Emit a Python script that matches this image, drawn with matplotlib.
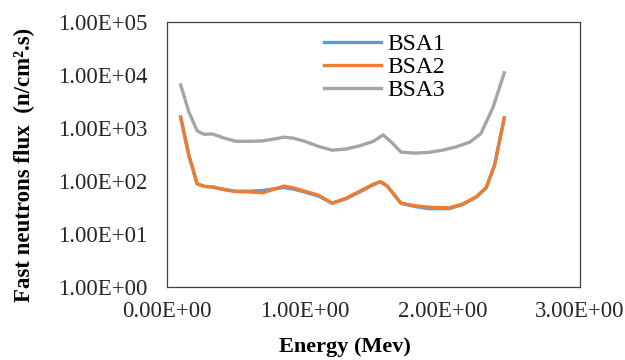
import matplotlib
matplotlib.use('Agg')
import matplotlib.pyplot as plt
import numpy as np

# values
energy = [0.10, 0.16, 0.22, 0.27, 0.33, 0.42, 0.50, 0.60, 0.70, 0.78, 0.85, 0.92, 1.00, 1.10, 1.20,
          1.30, 1.40, 1.50, 1.55, 1.60, 1.70, 1.80, 1.90, 2.05, 2.15, 2.25, 2.32, 2.38, 2.45]
bsa1 = [1600, 300, 88, 79, 77, 69, 64, 64, 66, 71, 75, 70, 62, 52, 38,
        46, 62, 85, 97, 80, 38, 33, 30, 30, 36, 50, 75, 200, 1550]
bsa2 = [1600, 300, 88, 79, 77, 68, 63, 62, 60, 70, 80, 74, 64, 54, 38,
        47, 64, 87, 96, 80, 38, 34, 32, 31, 37, 51, 76, 200, 1550]
energy3 = [0.10, 0.16, 0.22, 0.27, 0.33, 0.42, 0.50, 0.60, 0.70, 0.78, 0.85, 0.92, 1.00, 1.10, 1.20,
           1.30, 1.40, 1.50, 1.57, 1.63, 1.70, 1.80, 1.90, 2.00, 2.10, 2.20, 2.28, 2.37, 2.45]
bsa3 = [6500, 2000, 880, 760, 770, 640, 560, 560, 570, 620, 670, 640, 560, 450, 380,
        400, 460, 560, 740, 540, 350, 335, 345, 380, 440, 540, 780, 2500, 11000]

xticks = [0, 1, 2, 3]
xticklabels = ['0.00E+00', '1.00E+00', '2.00E+00', '3.00E+00']
yticks = [1, 10, 100, 1000, 10000, 100000]
yticklabels = ['1.00E+00', '1.00E+01', '1.00E+02', '1.00E+03', '1.00E+04', '1.00E+05']

plt.rcParams['font.family'] = ['Liberation Serif', 'DejaVu Serif']

fig = plt.figure(figsize=(6.25, 3.6), dpi=100)
ax = fig.add_axes([0.267, 0.203, 0.661, 0.736])

ax.plot(energy, bsa1, color='#5B9BD5', lw=2.4, label='BSA1', solid_joinstyle='round')
ax.plot(energy, bsa2, color='#ED7D31', lw=2.4, label='BSA2', solid_joinstyle='round')
ax.plot(energy3, bsa3, color='#A5A5A5', lw=2.4, label='BSA3', solid_joinstyle='round')

ax.set_yscale('log')
ax.set_xlim(0, 3)
ax.set_ylim(1, 1e5)
ax.set_xticks(xticks)
ax.set_xticklabels(xticklabels)
ax.set_yticks(yticks)
ax.set_yticklabels(yticklabels)
ax.yaxis.set_minor_locator(matplotlib.ticker.NullLocator())
ax.tick_params(length=0, labelsize=16.5, colors='#262626')
ax.tick_params(axis='x', pad=10)
ax.tick_params(axis='y', pad=14)
for s in ax.spines.values():
    s.set_color('#404040')
    s.set_linewidth(0.9)

ax.set_xlabel('Energy (Mev)', fontsize=16, fontweight='bold', va='center')
ax.xaxis.set_label_coords(0.43, -0.228)
ax.set_ylabel('Fast neutrons flux  (n/cm².s)', fontsize=16.5, fontweight='bold', va='center')
ax.yaxis.set_label_coords(-0.345, 0.46)

ax.legend(loc='upper left', bbox_to_anchor=(0.33, 1.035), frameon=False, fontsize=17,
          handlelength=2.4, handletextpad=0.25, labelspacing=0.05)

fig.savefig('out.png', dpi=100)
